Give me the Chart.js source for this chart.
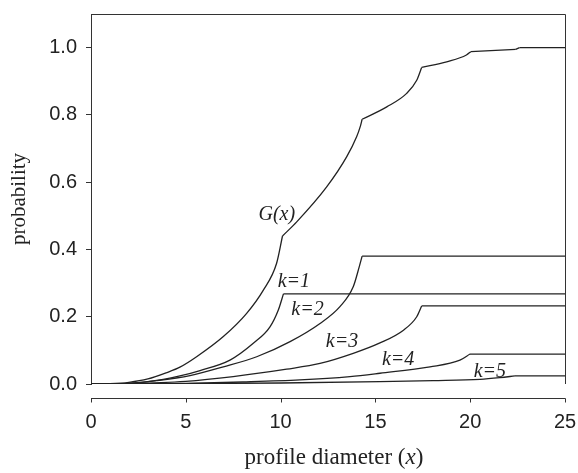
<!DOCTYPE html>
<html>
<head>
<meta charset="utf-8">
<script src="https://cdn.jsdelivr.net/npm/chart.js@4.4.1/dist/chart.umd.min.js"></script>
<style>
  body { margin: 0; background: #fff; }
  #wrap { width: 578px; height: 473px; }
</style>
</head>
<body>
<div id="wrap"><canvas id="chart" width="578" height="473"></canvas></div>
<script>
// profile diameter (x) and probability values
const gX = [0, 1, 2, 3, 4, 4.69, 5.57, 6.98, 8.21, 9.09, 9.79, 10.1, 10.85, 12.43, 13.49, 14.01, 14.2, 14.3, 15.6, 16.65, 17.18, 17.44, 18.76, 19.8, 20.03, 22.4, 22.6, 25];
const gY = [0, 0.001, 0.005, 0.015, 0.034, 0.05, 0.081, 0.141, 0.21, 0.279, 0.359, 0.44, 0.482, 0.586, 0.676, 0.735, 0.765, 0.787, 0.824, 0.864, 0.903, 0.941, 0.958, 0.978, 0.988, 0.995, 1.0, 1.0];
const gKinks = [10.1, 14.3, 17.44, 20.03, 22.4, 22.6];

const k1X = [0, 2, 3.81, 4.69, 5.75, 7.33, 8.56, 9.44, 9.88, 10.15, 25];
const k1Y = [0, 0.002, 0.014, 0.024, 0.04, 0.071, 0.121, 0.17, 0.22, 0.268, 0.268];
const k1Kinks = [10.15];

const k2X = [0, 2, 3.46, 5.22, 6.98, 8.74, 10.5, 12.08, 13.13, 13.83, 14.15, 14.3, 25];
const k2Y = [0, 0.002, 0.01, 0.025, 0.051, 0.081, 0.126, 0.18, 0.23, 0.289, 0.349, 0.38, 0.38];
const k2Kinks = [14.3];

const k3X = [0, 2, 5, 7.5, 10.32, 12.08, 13.83, 15.24, 16.48, 17.18, 17.44, 25];
const k3Y = [0, 0.001, 0.008, 0.022, 0.044, 0.061, 0.091, 0.122, 0.16, 0.2, 0.232, 0.232];
const k3Kinks = [17.44];

const k4X = [0, 3, 5, 8, 11.02, 13.66, 15.24, 17.88, 19.46, 19.99, 25];
const k4Y = [0, 0.001, 0.002, 0.006, 0.012, 0.022, 0.032, 0.051, 0.071, 0.089, 0.089];
const k4Kinks = [19.99];

const k5X = [0, 5, 10, 15.24, 18.05, 20.52, 21.57, 22.36, 25];
const k5Y = [0, 0.001, 0.003, 0.007, 0.01, 0.014, 0.019, 0.024, 0.024];
const k5Kinks = [22.36];

const xTicks = [0, 5, 10, 15, 20, 25];
const yTicks = [0, 0.2, 0.4, 0.6, 0.8, 1.0];

// curve names and where they sit on the plot (data units)
const curveNames = ['G(x)', 'k=1', 'k=2', 'k=3', 'k=4', 'k=5'];
const nameX = [9.8, 10.7, 11.42, 13.24, 16.2, 21.04];
const nameY = [0.502, 0.304, 0.22, 0.125, 0.071, 0.036];

const ink = '#222';

// one smooth piece per stretch between corners, so the corners stay sharp
function curve(xs, ys, kinks) {
  const pieces = [];
  let cur = [];
  xs.forEach((x, i) => {
    cur.push({ x: x, y: ys[i] });
    if (kinks.includes(x)) {
      pieces.push(cur);
      cur = [{ x: x, y: ys[i] }];
    }
  });
  if (cur.length > 1) pieces.push(cur);
  return pieces.map(p => ({
    data: p,
    borderColor: ink,
    borderWidth: 1.3,
    pointRadius: 0,
    cubicInterpolationMode: 'monotone',
    fill: false
  }));
}

// no extra room for tick labels: the plot box is fixed by the layout padding
function noPad(s) {
  s.paddingTop = 0;
  s.paddingBottom = 0;
  s.paddingLeft = 0;
  s.paddingRight = 0;
}

// box top/right, detached x axis, curve names and x title
const extras = {
  id: 'extras',
  afterDraw(chart) {
    const { ctx, chartArea: a, scales: { x, y } } = chart;
    ctx.save();
    ctx.strokeStyle = '#333';
    ctx.lineWidth = 1;
    ctx.beginPath();
    ctx.moveTo(a.left, a.top + 0.5);
    ctx.lineTo(a.right + 0.5, a.top + 0.5);
    ctx.lineTo(a.right + 0.5, a.bottom);
    const ay = Math.round(a.bottom) + 14.5;
    ctx.moveTo(x.getPixelForValue(xTicks[0]), ay);
    ctx.lineTo(x.getPixelForValue(xTicks[xTicks.length - 1]) + 0.5, ay);
    xTicks.forEach(t => {
      const px = Math.round(x.getPixelForValue(t)) + 0.5;
      ctx.moveTo(px, ay);
      ctx.lineTo(px, ay + 4);
    });
    ctx.stroke();

    ctx.fillStyle = ink;
    ctx.textAlign = 'center';
    ctx.textBaseline = 'middle';
    ctx.font = 'italic 20px "Liberation Serif"';
    curveNames.forEach((n, i) => {
      ctx.fillText(n, x.getPixelForValue(nameX[i]), y.getPixelForValue(nameY[i]));
    });

    // x title with italic x
    const parts = [['profile diameter (', '23px "Liberation Serif"'], ['x', 'italic 23px "Liberation Serif"'], [')', '23px "Liberation Serif"']];
    let w = 0;
    parts.forEach(p => { ctx.font = p[1]; w += ctx.measureText(p[0]).width; });
    let tx = (a.left + a.right) / 2 + 6 - w / 2;
    ctx.textAlign = 'left';
    ctx.textBaseline = 'alphabetic';
    parts.forEach(p => {
      ctx.font = p[1];
      ctx.fillText(p[0], tx, 464);
      tx += ctx.measureText(p[0]).width;
    });
    ctx.restore();
  }
};

new Chart(document.getElementById('chart'), {
  type: 'line',
  data: {
    datasets: [
      ...curve(gX, gY, gKinks),
      ...curve(k1X, k1Y, k1Kinks),
      ...curve(k2X, k2Y, k2Kinks),
      ...curve(k3X, k3Y, k3Kinks),
      ...curve(k4X, k4Y, k4Kinks),
      ...curve(k5X, k5Y, k5Kinks)
    ]
  },
  options: {
    responsive: false,
    animation: false,
    layout: { padding: { left: 0, right: 13, top: 14, bottom: 0 } },
    plugins: { legend: { display: false }, tooltip: { enabled: false } },
    scales: {
      x: {
        type: 'linear',
        min: 0,
        max: 25,
        afterBuildTicks: s => { s.ticks = xTicks.map(v => ({ value: v })); },
        afterFit: s => { s.height = 89; noPad(s); },
        ticks: {
          color: ink,
          font: { family: '"Liberation Sans"', size: 20 },
          padding: 26,
          maxRotation: 0
        },
        grid: { display: false, drawTicks: false },
        border: { display: false }
      },
      y: {
        min: 0,
        max: 1.1,
        afterBuildTicks: s => { s.ticks = yTicks.map(v => ({ value: v })); },
        afterFit: s => { s.width = 91; noPad(s); },
        ticks: {
          color: ink,
          font: { family: '"Liberation Sans"', size: 20 },
          padding: 9,
          callback: v => v.toFixed(1)
        },
        grid: { drawOnChartArea: false, tickLength: 5, color: '#333' },
        border: { display: true, color: '#333', width: 1 },
        title: {
          display: true,
          text: 'probability',
          color: ink,
          font: { family: '"Liberation Serif"', size: 21 },
          padding: { top: 7, bottom: 0 }
        }
      }
    }
  },
  plugins: [extras]
});
</script>
</body>
</html>
